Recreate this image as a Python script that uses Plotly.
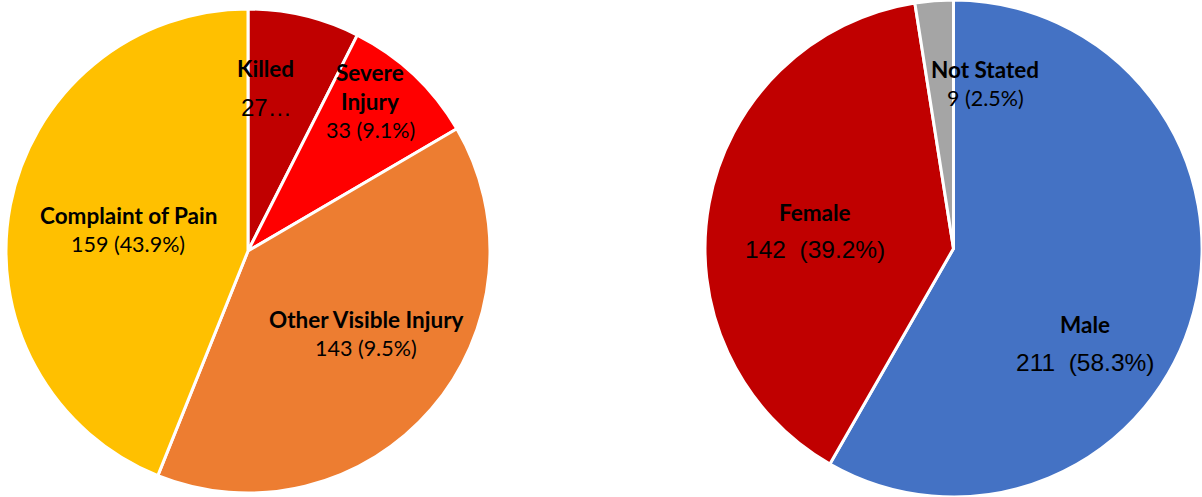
import plotly.graph_objects as go

# ---- data ----
severity_labels = ["Killed", "Severe Injury", "Other Visible Injury", "Complaint of Pain"]
severity_values = [27, 33, 143, 159]
severity_value_text = ["27…", "33 (9.1%)", "143 (9.5%)", "159 (43.9%)"]
severity_name_text = ["Killed", "Severe<br>Injury", "Other Visible Injury", "Complaint of Pain"]

gender_labels = ["Male", "Female", "Not Stated"]
gender_values = [211, 142, 9]
gender_value_text = ["211  (58.3%)", "142  (39.2%)", "9 (2.5%)"]
gender_name_text = ["Male", "Female", "Not Stated"]

# ---- styles ----
severity_colors = ["#C00000", "#FF0000", "#ED7D31", "#FFC000"]
gender_colors = ["#4472C4", "#C00000", "#A5A5A5"]

W, H = 1202, 497

fig = go.Figure()
fig.add_trace(go.Pie(
    labels=severity_labels, values=severity_values, sort=False, direction="clockwise",
    marker=dict(colors=severity_colors, line=dict(color="white", width=3)),
    textinfo="none", hoverinfo="label+value+percent",
    domain=dict(x=[6 / W, 490 / W], y=[(H - 493) / H, (H - 9) / H]),
    showlegend=False,
))
fig.add_trace(go.Pie(
    labels=gender_labels, values=gender_values, sort=False, direction="clockwise",
    marker=dict(colors=gender_colors, line=dict(color="white", width=3)),
    textinfo="none", hoverinfo="label+value+percent",
    domain=dict(x=[705 / W, 1.0], y=[0.0, 1.0]),
    showlegend=False,
))

# label placements (pixel centres): name, value
sev_name_pos = [(265, 68), (370, 87), (366, 319), (128, 215)]
sev_val_pos = [(266, 108), (370, 130), (366, 348), (128, 244)]
sev_val_font = [("Liberation Sans", 24), ("Lato", 21.5), ("Lato", 21.5), ("Lato", 21.5)]
gen_name_pos = [(1085, 324), (815, 212), (985, 69)]
gen_val_pos = [(1085, 362), (815, 250), (985, 98)]
gen_val_font = [("Liberation Sans", 24.5), ("Liberation Sans", 24.5), ("Lato", 21.5)]
NAME_FONT = ("Lato", 22.5)

annotations = []
def add(text, pos, family, size, bold=False):
    t = f"<b>{text}</b>" if bold else text
    annotations.append(dict(
        text=t, x=pos[0] / W, y=1 - pos[1] / H, xref="paper", yref="paper",
        showarrow=False, xanchor="center", yanchor="middle",
        font=dict(family=family, size=size, color="black"),
    ))

for i in range(len(severity_labels)):
    add(severity_name_text[i], sev_name_pos[i], NAME_FONT[0], NAME_FONT[1], bold=True)
    add(severity_value_text[i], sev_val_pos[i], sev_val_font[i][0], sev_val_font[i][1])
for i in range(len(gender_labels)):
    add(gender_name_text[i], gen_name_pos[i], NAME_FONT[0], NAME_FONT[1], bold=True)
    add(gender_value_text[i], gen_val_pos[i], gen_val_font[i][0], gen_val_font[i][1])

fig.update_layout(
    width=W, height=H, margin=dict(l=0, r=0, t=0, b=0),
    paper_bgcolor="white", plot_bgcolor="white",
    annotations=annotations,
)

fig.write_html("out.html", config={"displayModeBar": False},
               post_script="document.body.style.margin='0';")
